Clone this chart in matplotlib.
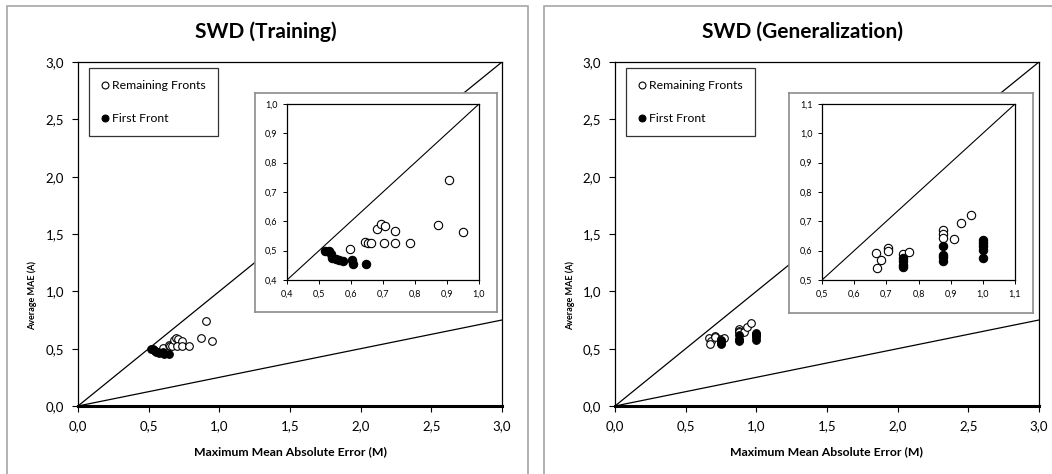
import matplotlib
matplotlib.use("Agg")
import matplotlib.pyplot as plt
import matplotlib.patches as mpatches
from matplotlib.ticker import FuncFormatter, MultipleLocator

plt.rcParams['font.family'] = ['Lato', 'DejaVu Sans']

# --------------------------------------------------------------------------
# Data
#
train_rest_x = [0.598, 0.645, 0.653, 0.664, 0.682, 0.693, 0.706, 0.703,
                0.739, 0.736, 0.785, 0.872, 0.907, 0.951]
train_rest_y = [0.506, 0.528, 0.526, 0.525, 0.575, 0.591, 0.585, 0.526,
                0.567, 0.526, 0.525, 0.589, 0.740, 0.563]
train_first_x = [0.518, 0.532, 0.537, 0.542, 0.552, 0.563, 0.576, 0.604,
                 0.607, 0.647]
train_first_y = [0.500, 0.498, 0.488, 0.476, 0.473, 0.469, 0.466, 0.469,
                 0.456, 0.453]

gen_rest_x = [0.668, 0.682, 0.671, 0.705, 0.705, 0.751, 0.772, 0.875,
              0.875, 0.875, 0.911, 0.931, 0.963]
gen_rest_y = [0.592, 0.567, 0.541, 0.608, 0.599, 0.587, 0.594, 0.671,
              0.658, 0.644, 0.641, 0.693, 0.723]
gen_first_x = [0.751, 0.751, 0.751, 0.751, 0.875, 0.875, 0.875, 0.875,
               1.0, 1.0, 1.0, 1.0, 1.0]
gen_first_y = [0.575, 0.564, 0.552, 0.544, 0.617, 0.585, 0.577, 0.565,
               0.635, 0.626, 0.615, 0.603, 0.575]

titles = ['SWD (Training)', 'SWD (Generalization)']
xlabel = 'Maximum Mean Absolute Error (M)'
ylabel = 'Average MAE (A)'
inset_ranges = [(0.4, 1.0), (0.5, 1.1)]

W, H = 1052, 474
fig = plt.figure(figsize=(W / 100, H / 100), dpi=100)


def px_rect(x0, y0, x1, y1):
    # pixel box (top-left origin) -> figure fraction [l, b, w, h]
    return [x0 / W, 1 - y1 / H, (x1 - x0) / W, (y1 - y0) / H]


def comma(v, pos):
    return '{:.1f}'.format(v).replace('.', ',')


# panel frames
for x0, x1 in [(7, 528), (544, 1060)]:
    fig.patches.append(mpatches.Rectangle((x0 / W, -0.1), (x1 - x0) / W,
                                          1 - 6 / H + 0.1,
                                          transform=fig.transFigure,
                                          fill=False, edgecolor='#a6a6a6',
                                          lw=1.2, zorder=0))

main_boxes = [(78, 62, 502, 406), (615, 62, 1039, 406)]
frame_boxes = [(255, 93, 497, 312), (789, 93, 1033, 313)]
inset_boxes = [(287, 104, 479, 280), (822, 104, 1015, 280)]
legend_pos = [(89, 68), (626, 68)]
title_x = [266, 803]
ylab_x = [32, 570]

data = [(train_rest_x, train_rest_y, train_first_x, train_first_y),
        (gen_rest_x, gen_rest_y, gen_first_x, gen_first_y)]

for i in range(2):
    rx, ry, fx, fy = data[i]

    # ----------------------------------------------------------------------
    # Main axes
    #
    ax = fig.add_axes(px_rect(*main_boxes[i]))
    ax.plot([0, 3], [0, 3], color='black', lw=0.9, zorder=1)
    ax.plot([0, 3], [0, 0.75], color='black', lw=0.9, zorder=1)
    ax.plot(rx, ry, 'o', ms=5.5, mfc='white', mec='black', mew=0.8,
            label='Remaining Fronts', zorder=3)
    ax.plot(fx, fy, 'o', ms=5.5, mfc='black', mec='black', mew=0.8,
            label='First Front', zorder=3)
    ax.set_xlim(0, 3)
    ax.set_ylim(0, 3)
    ax.xaxis.set_major_locator(MultipleLocator(0.5))
    ax.yaxis.set_major_locator(MultipleLocator(0.5))
    ax.xaxis.set_major_formatter(FuncFormatter(comma))
    ax.yaxis.set_major_formatter(FuncFormatter(comma))
    ax.tick_params(direction='out', length=4, width=0.8, labelsize=9.5,
                   pad=6)
    for s in ax.spines.values():
        s.set_linewidth(0.9)
    ax.spines['bottom'].set_linewidth(2.2)
    leg = ax.legend(loc='upper left',
                    bbox_to_anchor=(legend_pos[i][0] / W,
                                    1 - legend_pos[i][1] / H),
                    bbox_transform=fig.transFigure, borderaxespad=0,
                    fancybox=False, edgecolor='black', fontsize=8.8,
                    labelspacing=1.8, handlelength=0.6, handletextpad=0.3,
                    borderpad=1.0, markerscale=0.9)
    leg.get_frame().set_linewidth(0.9)

    fig.text(title_x[i] / W, 1 - 32 / H, titles[i], ha='center',
             va='center', fontsize=15, fontweight='bold')
    fig.text((main_boxes[i][0] + main_boxes[i][2]) / 2 / W, 1 - 452 / H,
             xlabel, ha='center', va='center', fontsize=8.8,
             fontweight='bold')
    fig.text(ylab_x[i] / W, 1 - 295 / H, ylabel, ha='center', va='center',
             rotation=90, fontsize=6.5, fontweight='bold')

    # ----------------------------------------------------------------------
    # Inset (zoomed view)
    #
    fr = fig.add_axes(px_rect(*frame_boxes[i]))
    fr.set_xticks([])
    fr.set_yticks([])
    for s in fr.spines.values():
        s.set_edgecolor('#8c8c8c')
        s.set_linewidth(1.2)

    lo, hi = inset_ranges[i]
    ins = fig.add_axes(px_rect(*inset_boxes[i]))
    ins.plot([lo, hi], [lo, hi], color='black', lw=0.8, zorder=1)
    ins.plot(rx, ry, 'o', ms=6, mfc='white', mec='black', mew=0.8, zorder=3)
    ins.plot(fx, fy, 'o', ms=6, mfc='black', mec='black', mew=0.8, zorder=3)
    ins.set_xlim(lo, hi)
    ins.set_ylim(lo, hi)
    ins.xaxis.set_major_locator(MultipleLocator(0.1))
    ins.yaxis.set_major_locator(MultipleLocator(0.1))
    ins.xaxis.set_major_formatter(FuncFormatter(comma))
    ins.yaxis.set_major_formatter(FuncFormatter(comma))
    ins.tick_params(direction='out', length=3, width=0.7, labelsize=6.5,
                    pad=4)
    for s in ins.spines.values():
        s.set_linewidth(0.9)

fig.savefig('out.png', dpi=100)
